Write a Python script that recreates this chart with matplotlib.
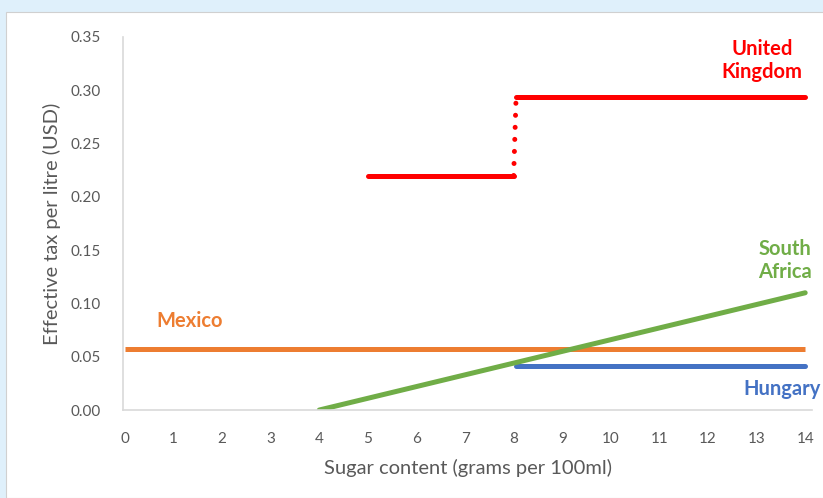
import matplotlib.pyplot as plt
from matplotlib.patches import Rectangle

plt.rcParams['font.family'] = ['Lato', 'DejaVu Sans']

# tax schedules, sugar grams per 100ml -> USD per litre
uk_low_x = [5, 8]
uk_low_y = [0.22, 0.22]
uk_high_x = [8.05, 14]
uk_high_y = [0.294, 0.294]
uk_step_x = [8, 8.05]
uk_step_y = [0.22, 0.294]

mexico_x = [0, 14]
mexico_y = [0.057, 0.057]

hungary_x = [8.05, 14]
hungary_y = [0.041, 0.041]

sa_x = [4, 5, 6, 7, 8, 9, 10, 11, 12, 13, 14]
sa_y = [0.0, 0.011, 0.022, 0.033, 0.044, 0.055, 0.066, 0.077, 0.088, 0.099, 0.110]

xticks = list(range(0, 15))
yticks = [0.00, 0.05, 0.10, 0.15, 0.20, 0.25, 0.30, 0.35]

red = '#ff0000'
orange = '#ed7d31'
blue = '#4472c4'
green = '#70ad47'
grey = '#595959'

fig = plt.figure(figsize=(8.23, 4.98), dpi=100, facecolor='#dff0fb')
fig.patches.append(Rectangle((6 / 823, 0), 1, 1 - 12 / 498, transform=fig.transFigure,
                             facecolor='white', edgecolor='#d0d0d0', linewidth=0.8, zorder=-1))

ax = fig.add_axes([123 / 823, 88 / 498, 689 / 823, 373 / 498])
ax.set_facecolor('none')
ax.set_zorder(1)

lw = 3.6
ax.plot(mexico_x, mexico_y, color=orange, lw=lw, solid_capstyle='butt')
ax.plot(hungary_x, hungary_y, color=blue, lw=lw, solid_capstyle='round')
ax.plot(sa_x, sa_y, color=green, lw=lw, solid_capstyle='round')
ax.plot(uk_low_x, uk_low_y, color=red, lw=lw, solid_capstyle='round')
ax.plot(uk_high_x, uk_high_y, color=red, lw=lw, solid_capstyle='round')
ax.plot(uk_step_x, uk_step_y, color=red, lw=lw, linestyle=(0, (0.01, 2.4)),
        dash_capstyle='round')

ax.set_xlim(-0.04, 14.14)
ax.set_ylim(0, 0.35)
ax.set_xticks(xticks)
ax.set_yticks(yticks)
ax.set_yticklabels([f'{v:.2f}' for v in yticks])
ax.tick_params(length=0, labelsize=11, colors=grey, pad=16)
ax.tick_params(axis='y', pad=16)

for side in ['top', 'right']:
    ax.spines[side].set_visible(False)
for side in ['left', 'bottom']:
    ax.spines[side].set_color('#d9d9d9')
    ax.spines[side].set_linewidth(1.2)

ax.set_xlabel('Sugar content (grams per 100ml)', fontsize=14.5, color=grey, labelpad=9)
ax.set_ylabel('Effective tax per litre (USD)', fontsize=14.5, color=grey, labelpad=7)

kw = dict(fontsize=14.5, fontweight='bold', ha='center', va='center', linespacing=1.2)
ax.text(13.11, 0.328, 'United\nKingdom', color=red, **kw)
ax.text(13.59, 0.140, 'South\nAfrica', color=green, **kw)
ax.text(1.34, 0.0835, 'Mexico', color=orange, **kw)
ax.text(13.53, 0.0197, 'Hungary', color=blue, **kw)

fig.savefig('out.png', dpi=100, facecolor=fig.get_facecolor())
